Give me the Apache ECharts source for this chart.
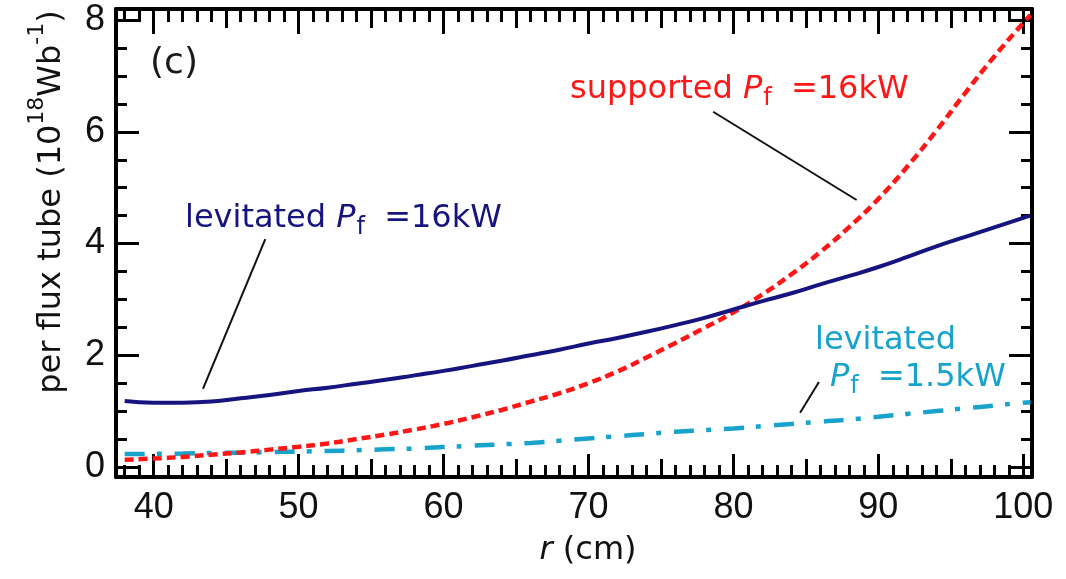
<!DOCTYPE html>
<html><head><meta charset="utf-8">
<script src="https://cdn.jsdelivr.net/npm/echarts@6/dist/echarts.min.js"></script>
<style>html,body{margin:0;padding:0;background:#fff}#c{width:1066px;height:579px}</style>
</head><body><div id="c"></div>
<script>
// ---- data ----
const rValues      = [38, 40, 42, 44, 46, 48, 50, 52, 54, 56, 58, 60, 62, 64, 66, 68, 70, 72, 74, 76, 78, 80, 82, 84, 86, 88, 90, 92, 94, 96, 98, 100, 100.5];
const levitated16  = [1.18, 1.15, 1.15, 1.17, 1.23, 1.29, 1.36, 1.42, 1.49, 1.56, 1.64, 1.72, 1.81, 1.90, 2.00, 2.10, 2.21, 2.31, 2.42, 2.54, 2.67, 2.82, 2.97, 3.11, 3.27, 3.42, 3.58, 3.76, 3.95, 4.12, 4.29, 4.46, 4.50];
const supported16  = [0.13, 0.15, 0.18, 0.22, 0.26, 0.31, 0.36, 0.42, 0.50, 0.58, 0.67, 0.77, 0.89, 1.02, 1.17, 1.32, 1.50, 1.71, 1.96, 2.22, 2.49, 2.77, 3.09, 3.45, 3.85, 4.30, 4.80, 5.38, 6.02, 6.70, 7.35, 7.95, 8.09];
const levitated15  = [0.23, 0.235, 0.24, 0.25, 0.255, 0.265, 0.275, 0.285, 0.30, 0.315, 0.33, 0.355, 0.38, 0.405, 0.43, 0.47, 0.51, 0.55, 0.59, 0.63, 0.66, 0.69, 0.73, 0.77, 0.81, 0.85, 0.90, 0.95, 1.00, 1.05, 1.10, 1.15, 1.16];

const xMajorTicks = [40, 50, 60, 70, 80, 90, 100];
const xMidTicks   = [45, 55, 65, 75, 85, 95];
const xMinorTicks = [38, 39, 41, 42, 43, 44, 46, 47, 48, 49, 51, 52, 53, 54, 56, 57, 58, 59, 61, 62, 63, 64, 66, 67, 68, 69, 71, 72, 73, 74, 76, 77, 78, 79, 81, 82, 83, 84, 86, 87, 88, 89, 91, 92, 93, 94, 96, 97, 98, 99];
const yMajorTicks = [0, 2, 4, 6, 8];
const yMinorTicks = [0.5, 1, 1.5, 2.5, 3, 3.5, 4.5, 5, 5.5, 6.5, 7, 7.5];

// annotation leader lines, in data units [r, value]
const leaderSupported = [[78.6, 6.36], [88.5, 4.78]];
const leaderLev16     = [[47.7, 4.08], [43.4, 1.40]];
const leaderLev15     = [[85.9, 1.52], [84.6, 0.97]];

const X_MIN = 37.4, X_MAX = 100.6, Y_MIN = -0.18, Y_MAX = 8.2;
const FONT = '"DejaVu Sans", "Liberation Sans", Arial, sans-serif';
const TICKFONT = '"Liberation Sans", Arial, Helvetica, sans-serif';
const NAVY = '#16157f', RED = '#ff1616', CYAN = '#17a3cc';

function pairs(vals) { return rValues.map((r, i) => [r, vals[i]]); }

function xAx(pos, ticks, len, showLine, showLabel) {
  return {
    type: 'value', position: pos, min: X_MIN, max: X_MAX,
    axisLine: { show: showLine, onZero: false, lineStyle: { color: '#000', width: 4 } },
    axisTick: { show: true, inside: true, length: len, customValues: ticks, lineStyle: { color: '#000', width: 3 } },
    axisLabel: showLabel ? { show: true, customValues: ticks, fontSize: 36, fontFamily: TICKFONT, color: '#111', margin: 13 } : { show: false },
    splitLine: { show: false }, minorTick: { show: false }
  };
}
function yAx(pos, ticks, len, showLine, showLabel) {
  return {
    type: 'value', position: pos, min: Y_MIN, max: Y_MAX,
    axisLine: { show: showLine, onZero: false, lineStyle: { color: '#000', width: 4 } },
    axisTick: { show: true, inside: true, length: len, customValues: ticks, lineStyle: { color: '#000', width: 3 } },
    axisLabel: showLabel ? { show: true, customValues: ticks, fontSize: 36, fontFamily: TICKFONT, color: '#111', margin: 11 } : { show: false },
    splitLine: { show: false }, minorTick: { show: false }
  };
}

const chart = echarts.init(document.getElementById('c'), null, { renderer: 'canvas' });
chart.setOption({
  animation: false,
  backgroundColor: '#fff',
  grid: { left: 116, right: 34, top: 9, bottom: 102, containLabel: false },
  xAxis: [
    xAx('bottom', xMajorTicks, 23, true, true),
    xAx('bottom', xMidTicks, 18, false, false),
    xAx('bottom', xMinorTicks, 12, false, false),
    xAx('top', xMajorTicks, 25, true, false),
    xAx('top', xMidTicks, 19, false, false),
    xAx('top', xMinorTicks, 13, false, false)
  ],
  yAxis: [
    yAx('left', yMajorTicks, 23, true, true),
    yAx('left', yMinorTicks, 11, false, false),
    yAx('right', yMajorTicks, 23, true, false),
    yAx('right', yMinorTicks, 11, false, false)
  ],
  series: [
    { name: 'levitated 1.5kW', type: 'line', data: pairs(levitated15), showSymbol: false, smooth: true,
      lineStyle: { color: CYAN, width: 4.5, type: [20, 12, 5, 13], cap: 'butt' }, z: 3 },
    { name: 'supported 16kW', type: 'line', data: pairs(supported16), showSymbol: false, smooth: true,
      lineStyle: { color: RED, width: 4.5, type: [9, 5], cap: 'butt' }, z: 4 },
    { name: 'levitated 16kW', type: 'line', data: pairs(levitated16), showSymbol: false, smooth: true,
      lineStyle: { color: NAVY, width: 4 }, z: 5 }
  ]
});

function richLabel(color) {
  return {
    a: { fontSize: 32, fontFamily: FONT, fill: color, verticalAlign: 'top' },
    i: { fontSize: 32, fontFamily: FONT, fill: color, verticalAlign: 'top', fontStyle: 'italic' },
    s: { fontSize: 24, fontFamily: FONT, fill: color, verticalAlign: 'top', padding: [13, 9, 0, 1] }
  };
}
function label(x, y, text, color) {
  return { type: 'text', x: x, y: y, z: 100,
    style: { text: text, rich: richLabel(color), fill: color, font: '32px ' + FONT, align: 'left', verticalAlign: 'top' } };
}
function leader(seg) {
  const p1 = chart.convertToPixel({ xAxisIndex: 0, yAxisIndex: 0 }, seg[0]);
  const p2 = chart.convertToPixel({ xAxisIndex: 0, yAxisIndex: 0 }, seg[1]);
  return { type: 'line', z: 90, shape: { x1: p1[0], y1: p1[1], x2: p2[0], y2: p2[1] }, style: { stroke: '#111', lineWidth: 2 } };
}

chart.setOption({
  graphic: [
    leader(leaderSupported), leader(leaderLev16), leader(leaderLev15),
    label(570, 74, '{a|supported }{i|P}{s|f}{a| =16kW}', RED),
    label(185, 203, '{a|levitated }{i|P}{s|f}{a| =16kW}', NAVY),
    label(815, 325, '{a|levitated}', CYAN),
    label(830, 362, '{i|P}{s|f}{a| =1.5kW}', CYAN),
    { type: 'text', x: 174, y: 64, z: 100,
      style: { text: '(c)', font: '36px ' + FONT, fill: '#1a1a1a', align: 'center', verticalAlign: 'middle' } },
    { type: 'text', x: 588, y: 551, z: 100,
      style: { text: '{i|r}{a| (cm)}', align: 'center', verticalAlign: 'middle',
        rich: { i: { fontSize: 32, fontFamily: FONT, fontStyle: 'italic', fill: '#111' },
                a: { fontSize: 32, fontFamily: FONT, fill: '#111' } } } },
    { type: 'text', x: 47, y: 202, rotation: Math.PI / 2, z: 100,
      style: { text: '{a|per flux tube (10}{s|18}{a|Wb}{s|-1}{a|)}', align: 'center', verticalAlign: 'middle',
        rich: { a: { fontSize: 32, fontFamily: FONT, fill: '#111', lineHeight: 42, verticalAlign: 'bottom' },
                s: { fontSize: 22, fontFamily: FONT, fill: '#111', lineHeight: 22, verticalAlign: 'top' } } } }
  ]
});
</script></body></html>
